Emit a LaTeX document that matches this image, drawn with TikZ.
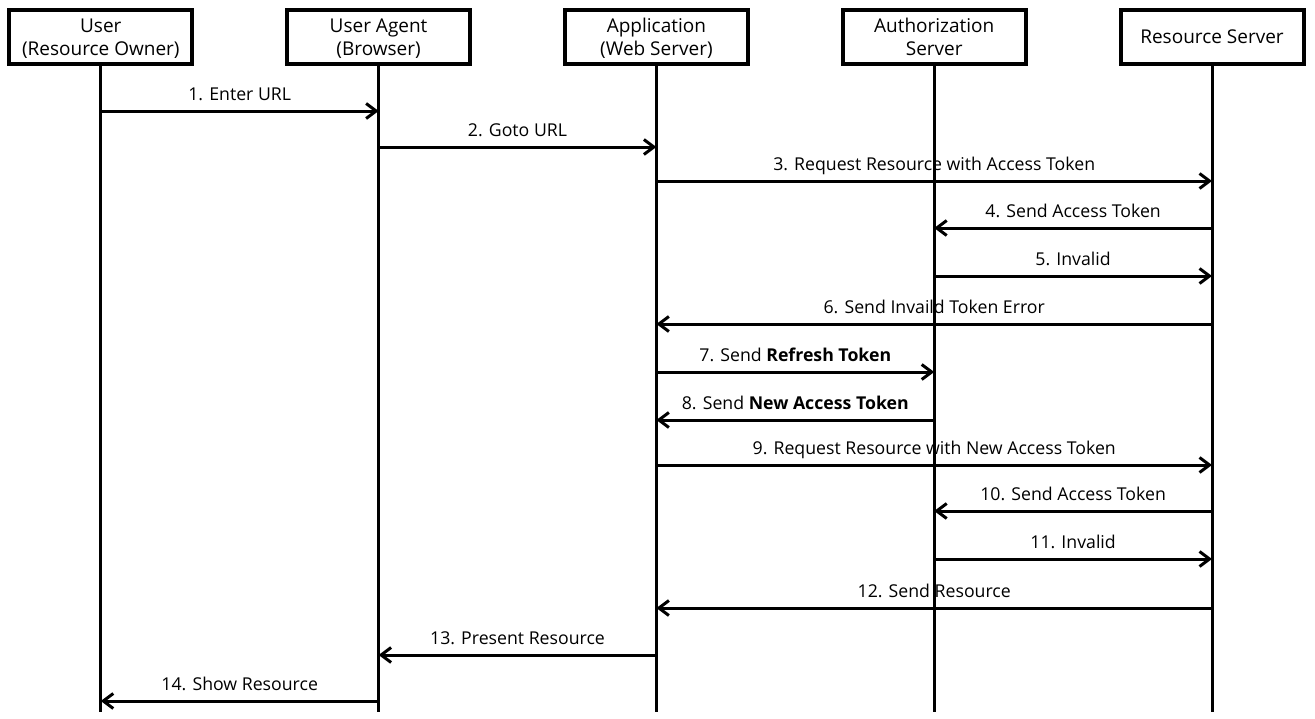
\documentclass[tikz,border=0pt]{standalone}
\usepackage{fontspec}
\setmainfont{Open Sans}
\usetikzlibrary{positioning, arrows.meta, calc}

\begin{document}
\begin{tikzpicture}[x=1pt, y=1pt]
	% Define styles
	\tikzset{
		actor/.style={rectangle, draw, line width=4pt, minimum width=183pt, minimum height=54pt, align=center, inner sep=2pt, text depth=0pt, font=\fontsize{19}{23}\selectfont},
		life/.style={draw, line width=3pt},
		msg/.style={draw, line width=3pt, -{Straight Barb[length=10pt, width=15pt]}},
		lbl/.style={above, inner sep=0pt, text depth=9pt, font=\fontsize{17.7}{20}\selectfont}
	}
	\useasboundingbox (0,0) rectangle (1315,-718);
	
	% Nodes
	\node[actor] (user) at (100.8,-37) {User\\(Resource Owner)};
	\node[actor, right=90.8pt of user] (agent) {User Agent\\(Browser)};
	\node[actor, right=90.8pt of agent] (app) {Application\\(Web Server)};
	\node[actor, right=90.8pt of app] (auth) {Authorization\\Server};
	\node[actor, right=90.8pt of auth] (res) {Resource Server};
	\coordinate (bottom) at (0,-712);
	
	% Lifelines
	\path [life] (user.south) -- (user.south |- bottom);
	\path [life] (agent.south) -- (agent.south |- bottom);
	\path [life] (app.south) -- (app.south |- bottom);
	\path [life] (auth.south) -- (auth.south |- bottom);
	\path [life] (res.south) -- (res.south |- bottom);
	
	% Messages
	\path [msg] (user |- 0,-111) -- node[lbl] {1. Enter URL} (agent |- 0,-111);
	\path [msg] (agent |- 0,-147) -- node[lbl] {2. Goto URL} (app |- 0,-147);
	\path [msg] (app |- 0,-181) -- node[lbl] {3. Request Resource with Access Token} (res |- 0,-181);
	\path [msg] (res |- 0,-228) -- node[lbl] {4. Send Access Token} (auth |- 0,-228);
	\path [msg] (auth |- 0,-276) -- node[lbl] {5. Invalid} (res |- 0,-276);
	\path [msg] (res |- 0,-324) -- node[lbl] {6. Send Invaild Token Error} (app |- 0,-324);
	\path [msg] (app |- 0,-372) -- node[lbl] {7. Send \textbf{Refresh Token}} (auth |- 0,-372);
	\path [msg] (auth |- 0,-420) -- node[lbl] {8. Send \textbf{New Access Token}} (app |- 0,-420);
	\path [msg] (app |- 0,-465) -- node[lbl] {9. Request Resource with New Access Token} (res |- 0,-465);
	\path [msg] (res |- 0,-511) -- node[lbl] {10. Send Access Token} (auth |- 0,-511);
	\path [msg] (auth |- 0,-559) -- node[lbl] {11. Invalid} (res |- 0,-559);
	\path [msg] (res |- 0,-608) -- node[lbl] {12. Send Resource} (app |- 0,-608);
	\path [msg] (app |- 0,-655) -- node[lbl] {13. Present Resource} (agent |- 0,-655);
	\path [msg] (agent |- 0,-701) -- node[lbl] {14. Show Resource} (user |- 0,-701);
\end{tikzpicture}
\end{document}
